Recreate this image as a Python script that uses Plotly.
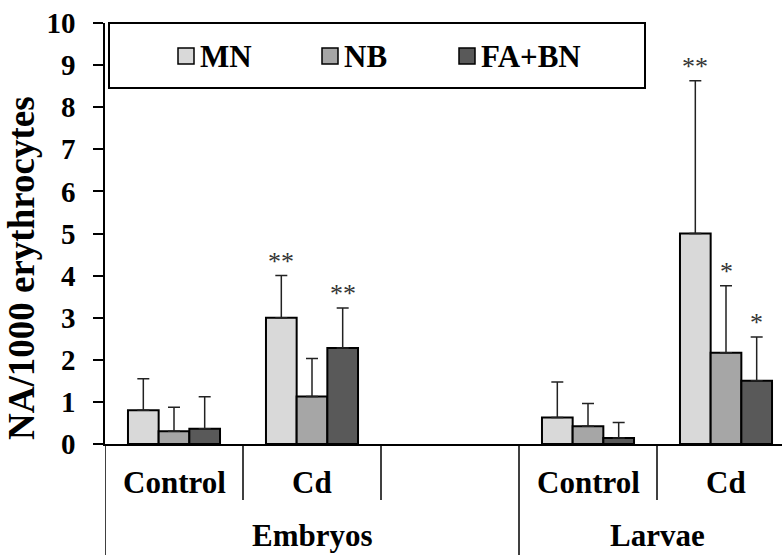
import plotly.graph_objects as go

# Data: frequency of nuclear abnormalities per 1000 erythrocytes
groups = ["Embryos", "Larvae"]
treatments = ["Control", "Cd"]
series = ["MN", "NB", "FA+BN"]
colors = ["#d9d9d9", "#a6a6a6", "#595959"]

# category slots on the x axis: Embryos Control, Embryos Cd, (gap), Larvae Control, Larvae Cd
slots = [0, 1, 3, 4]
slot_labels = ["Control", "Cd", "Control", "Cd"]

values = {
    "MN":    [0.80, 3.00, 0.63, 5.00],
    "NB":    [0.30, 1.13, 0.42, 2.17],
    "FA+BN": [0.36, 2.28, 0.14, 1.50],
}
errors = {
    "MN":    [0.75, 1.00, 0.84, 3.63],
    "NB":    [0.57, 0.90, 0.54, 1.59],
    "FA+BN": [0.76, 0.95, 0.37, 1.04],
}
stars = {
    "MN":    ["", "**", "", "**"],
    "NB":    ["", "", "", "*"],
    "FA+BN": ["", "**", "", "*"],
}

W, H = 782, 555
ML, MT, MB = 105, 23, 111
plot_w = W - ML
plot_h = H - MT - MB
slot_px = 138
x_range = [-0.5, -0.5 + plot_w / slot_px]
bargap = 0.333
bar_w = (1 - bargap) / len(series)

FONT = "Liberation Serif"


def px_x(px):
    return (px - ML) / plot_w


def px_y(py):
    return (H - MB - py) / plot_h


fig = go.Figure()
for i, name in enumerate(series):
    fig.add_trace(go.Bar(
        x=slots, y=values[name], name=name,
        marker=dict(color=colors[i], line=dict(color="black", width=2)),
        error_y=dict(type="data", symmetric=False, array=errors[name],
                     arrayminus=[0] * len(slots), color="#222222",
                     thickness=1.5, width=6),
        showlegend=False,
    ))

annotations = []
shapes = []

# significance stars above the error bars
for i, name in enumerate(series):
    off = (i - (len(series) - 1) / 2) * bar_w
    for s, v, e, st in zip(slots, values[name], errors[name], stars[name]):
        if st:
            annotations.append(dict(
                x=s + off, y=v + e, xref="x", yref="y", text=st,
                showarrow=False, yanchor="bottom", yshift=-2,
                font=dict(family=FONT, size=26, color="#333333")))

# category labels and separators below the axis
for s, lab in zip(slots, slot_labels):
    annotations.append(dict(
        x=s, y=px_y(482), xref="x", yref="paper", text=f"<b>{lab}</b>",
        showarrow=False, yanchor="middle",
        font=dict(family=FONT, size=31, color="black")))

n_slots = 5
for k in range(n_slots + 1):
    xb = k - 0.5
    if xb > x_range[1]:
        continue
    full = k in (0, 3)
    shapes.append(dict(
        type="line", xref="x", yref="paper", x0=xb, x1=xb,
        y0=0, y1=px_y(H) if full else px_y(500),
        line=dict(color="black", width=1.5)))

for g, centre in zip(groups, [1.0, 3.5]):
    annotations.append(dict(
        x=centre, y=px_y(535), xref="x", yref="paper", text=f"<b>{g}</b>",
        showarrow=False, yanchor="middle",
        font=dict(family=FONT, size=31, color="black")))

# y axis title
annotations.append(dict(
    x=px_x(21), y=px_y(268), xref="paper", yref="paper",
    text="<b>NA/1000 erythrocytes</b>", textangle=-90, showarrow=False,
    xanchor="center", yanchor="middle",
    font=dict(family=FONT, size=37, color="black")))

# legend box with swatches
shapes.append(dict(type="rect", xref="paper", yref="paper",
                   x0=px_x(109), x1=px_x(645), y0=px_y(88), y1=px_y(23),
                   line=dict(color="black", width=2), fillcolor="white"))
legend_sq = [178, 322, 459]
for name, c, sx in zip(series, colors, legend_sq):
    shapes.append(dict(type="rect", xref="paper", yref="paper",
                       x0=px_x(sx), x1=px_x(sx + 16), y0=px_y(64), y1=px_y(48),
                       line=dict(color="black", width=1.5), fillcolor=c))
    annotations.append(dict(
        x=px_x(sx + 20), y=px_y(56), xref="paper", yref="paper",
        text=f"<b>{name}</b>", showarrow=False, xanchor="left", yanchor="middle",
        font=dict(family=FONT, size=31, color="black")))

fig.update_layout(
    width=W, height=H,
    margin=dict(l=ML, r=0, t=MT, b=MB, pad=0),
    paper_bgcolor="white", plot_bgcolor="white",
    barmode="group", bargap=bargap, bargroupgap=0,
    xaxis=dict(range=x_range, showticklabels=False, ticks="",
               showgrid=False, zeroline=False, showline=True,
               linecolor="black", linewidth=1.5, fixedrange=True),
    yaxis=dict(range=[0, 10], ticks="outside", ticklen=10,
               tickwidth=1.5, tickcolor="black", showgrid=False,
               zeroline=False, showline=True, linecolor="black",
               linewidth=1.5, ticklabelstandoff=12,
               tickvals=list(range(0, 11)),
               ticktext=[f"<b>{v}</b>" for v in range(0, 11)],
               tickfont=dict(family=FONT, size=29, color="black")),
    annotations=annotations, shapes=shapes,
    font=dict(family=FONT),
)

fig.write_html("out.html")
